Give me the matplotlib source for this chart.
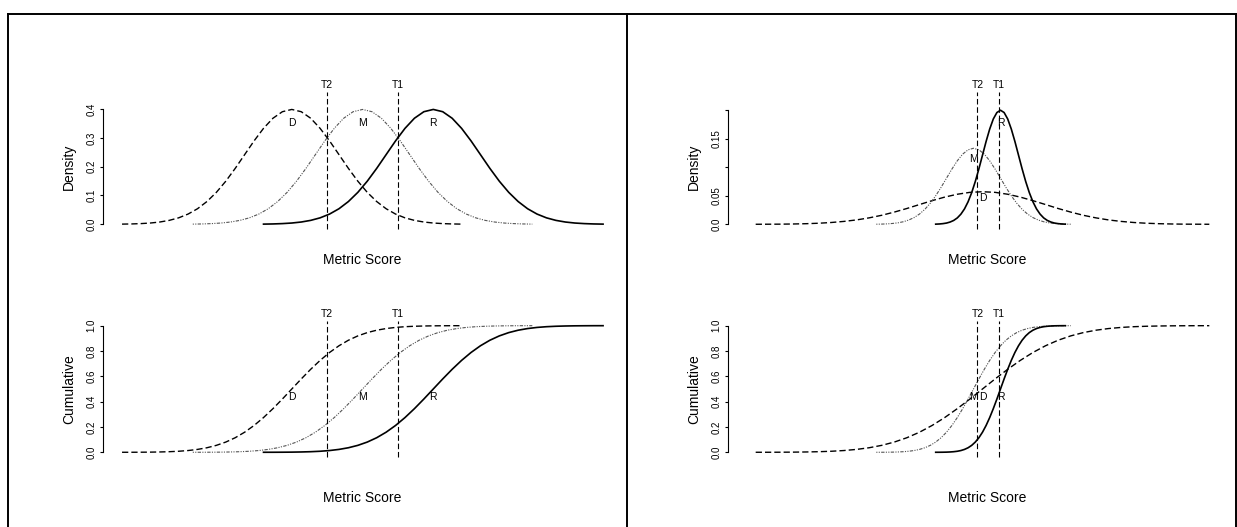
import numpy as np
import matplotlib.pyplot as plt
from matplotlib.lines import Line2D

plt.rcParams['font.family'] = ['Liberation Sans', 'DejaVu Sans']

# ---- left panel: three equal-spread scores ----
left_d_x = [-5.1, -4.9, -4.7, -4.5, -4.3, -4.1, -3.9, -3.7, -3.5, -3.3, -3.1, -2.9, -2.7,
            -2.5, -2.3, -2.1, -1.9, -1.7, -1.5, -1.3, -1.1, -0.9, -0.7, -0.5, -0.3, -0.1,
            0.1, 0.3, 0.5, 0.7, 0.9, 1.1, 1.3, 1.5, 1.7, 1.9, 2.1]
left_m_x = [-3.6, -3.4, -3.2, -3.0, -2.8, -2.6, -2.4, -2.2, -2.0, -1.8, -1.6, -1.4, -1.2,
            -1.0, -0.8, -0.6, -0.4, -0.2, 0.0, 0.2, 0.4, 0.6, 0.8, 1.0, 1.2, 1.4, 1.6,
            1.8, 2.0, 2.2, 2.4, 2.6, 2.8, 3.0, 3.2, 3.4, 3.6]
left_r_x = [-2.1, -1.9, -1.7, -1.5, -1.3, -1.1, -0.9, -0.7, -0.5, -0.3, -0.1, 0.1, 0.3,
            0.5, 0.7, 0.9, 1.1, 1.3, 1.5, 1.7, 1.9, 2.1, 2.3, 2.5, 2.7, 2.9, 3.1, 3.3,
            3.5, 3.7, 3.9, 4.1, 4.3, 4.5, 4.7, 4.9, 5.1]
left_d_dens = [0.0006, 0.0012, 0.0024, 0.0044, 0.0079, 0.0136, 0.0224, 0.0355, 0.0540, 0.0790,
               0.1109, 0.1497, 0.1942, 0.2420, 0.2897, 0.3332, 0.3683, 0.3910, 0.3989, 0.3910,
               0.3683, 0.3332, 0.2897, 0.2420, 0.1942, 0.1497, 0.1109, 0.0790, 0.0540, 0.0355,
               0.0224, 0.0136, 0.0079, 0.0044, 0.0024, 0.0012, 0.0006]
left_m_dens = list(left_d_dens)
left_r_dens = list(left_d_dens)
left_d_cum = [0.0002, 0.0003, 0.0007, 0.0013, 0.0026, 0.0047, 0.0082, 0.0139, 0.0228, 0.0359,
              0.0548, 0.0808, 0.1151, 0.1587, 0.2119, 0.2743, 0.3446, 0.4207, 0.5000, 0.5793,
              0.6554, 0.7257, 0.7881, 0.8413, 0.8849, 0.9192, 0.9452, 0.9641, 0.9772, 0.9861,
              0.9918, 0.9953, 0.9974, 0.9987, 0.9993, 0.9997, 0.9998]
left_m_cum = list(left_d_cum)
left_r_cum = list(left_d_cum)
left_means = [-1.5, 0.0, 1.5]          # D, M, R
left_thresholds = [-0.75, 0.75]        # T2, T1

# ---- right panel: different spreads ----
right_d_x = [-24.2, -22.8, -21.4, -20.0, -18.6, -17.2, -15.8, -14.4, -13.0, -11.6, -10.2, -8.8,
             -7.4, -6.0, -4.6, -3.2, -1.8, -0.4, 1.0, 2.4, 3.8, 5.2, 6.6, 8.0, 9.4, 10.8, 12.2,
             13.6, 15.0, 16.4, 17.8, 19.2, 20.6, 22.0, 23.4, 24.8, 26.2]
right_m_x = [-10.8, -10.2, -9.6, -9.0, -8.4, -7.8, -7.2, -6.6, -6.0, -5.4, -4.8, -4.2, -3.6,
             -3.0, -2.4, -1.8, -1.2, -0.6, 0.0, 0.6, 1.2, 1.8, 2.4, 3.0, 3.6, 4.2, 4.8, 5.4,
             6.0, 6.6, 7.2, 7.8, 8.4, 9.0, 9.6, 10.2, 10.8]
right_r_x = [-4.2, -3.8, -3.4, -3.0, -2.6, -2.2, -1.8, -1.4, -1.0, -0.6, -0.2, 0.2, 0.6, 1.0,
             1.4, 1.8, 2.2, 2.6, 3.0, 3.4, 3.8, 4.2, 4.6, 5.0, 5.4, 5.8, 6.2, 6.6, 7.0, 7.4,
             7.8, 8.2, 8.6, 9.0, 9.4, 9.8, 10.2]
right_d_dens = [0.0001, 0.0002, 0.0003, 0.0006, 0.0011, 0.0019, 0.0032, 0.0051, 0.0077, 0.0113,
                0.0158, 0.0214, 0.0277, 0.0346, 0.0414, 0.0476, 0.0526, 0.0559, 0.0570, 0.0559,
                0.0526, 0.0476, 0.0414, 0.0346, 0.0277, 0.0214, 0.0158, 0.0113, 0.0077, 0.0051,
                0.0032, 0.0019, 0.0011, 0.0006, 0.0003, 0.0002, 0.0001]
right_m_dens = [0.0002, 0.0004, 0.0008, 0.0015, 0.0026, 0.0045, 0.0075, 0.0118, 0.0180, 0.0263,
                0.0370, 0.0499, 0.0647, 0.0807, 0.0966, 0.1111, 0.1228, 0.1303, 0.1330, 0.1303,
                0.1228, 0.1111, 0.0966, 0.0807, 0.0647, 0.0499, 0.0370, 0.0263, 0.0180, 0.0118,
                0.0075, 0.0045, 0.0026, 0.0015, 0.0008, 0.0004, 0.0002]
right_r_dens = [0.0003, 0.0006, 0.0012, 0.0022, 0.0040, 0.0068, 0.0112, 0.0178, 0.0270, 0.0395,
                0.0555, 0.0749, 0.0971, 0.1210, 0.1449, 0.1666, 0.1842, 0.1955, 0.1995, 0.1955,
                0.1842, 0.1666, 0.1449, 0.1210, 0.0971, 0.0749, 0.0555, 0.0395, 0.0270, 0.0178,
                0.0112, 0.0068, 0.0040, 0.0022, 0.0012, 0.0006, 0.0003]
right_d_cum = list(left_d_cum)
right_m_cum = list(left_d_cum)
right_r_cum = list(left_d_cum)
right_means = [1.0, 0.0, 3.0]          # D, M, R
right_thresholds = [0.44, 2.78]        # T2, T1

names = ['D', 'M', 'R']
thr_names = ['T2', 'T1']

styles = {
    'D': dict(color='black', lw=1.0, dashes=(4.5, 2.2)),
    'M': dict(color='#555555', lw=0.8, dashes=(1.0, 1.2, 1.0, 1.2, 3.0, 1.2)),
    'R': dict(color='black', lw=1.2, ls='-'),
}

W, H = 1237, 527
fig = plt.figure(figsize=(W / 100, H / 100), dpi=100)


def px_axes(x0, y0, x1, y1):
    return fig.add_axes([x0 / W, 1 - y1 / H, (x1 - x0) / W, (y1 - y0) / H])


def style_axes(ax, ticks, ticklabels, ylabel, xlim, ylim, xlab_y):
    for s in ['top', 'right', 'bottom']:
        ax.spines[s].set_visible(False)
    ax.spines['left'].set_bounds(ticks[0], ticks[-1])
    ax.spines['left'].set_linewidth(0.8)
    ax.set_xticks([])
    ax.set_yticks(ticks)
    ax.set_yticklabels(ticklabels, rotation=90, va='center', fontsize=7)
    ax.tick_params(axis='y', length=2, width=0.8, pad=2.5)
    ax.set_xlim(xlim)
    ax.set_ylim(ylim)
    ax.set_ylabel(ylabel, fontsize=10, va='center')
    ax.yaxis.set_label_coords(-0.065, 0.5)
    ax.set_xlabel('Metric Score', fontsize=10)
    ax.xaxis.set_label_coords(0.5, xlab_y)
    ax.xaxis.label.set_va('center')
    ax.patch.set_visible(False)


def draw(ax, xs, ys, means, label_ys, thresholds, line_top, text_y):
    for name, x, y in zip(names, xs, ys):
        ax.plot(x, y, **styles[name])
    tr = ax.get_xaxis_transform()
    for t, tn in zip(thresholds, thr_names):
        ax.plot([t, t], [0, line_top], transform=tr, color='black', lw=0.8,
                dashes=(5, 2.5), clip_on=False)
        ax.text(t, text_y, tn, transform=tr, ha='center', va='center', fontsize=7.5)
    for name, m, ly in zip(names, means, label_ys):
        ax.text(m, ly, name, ha='center', va='center', fontsize=7.5)


dens_top, dens_bot = 104.8, 228.9
cum_top, cum_bot = 320.6, 457.4
lx0, lx1 = 102.8, 622.3
rx0, rx1 = 727.7, 1247.2

# left density
ax = px_axes(lx0, dens_top, lx1, dens_bot)
draw(ax, [left_d_x, left_m_x, left_r_x], [left_d_dens, left_m_dens, left_r_dens],
     left_means, [0.351, 0.351, 0.351], left_thresholds, 1.106, 1.16)
style_axes(ax, [0, 0.1, 0.2, 0.3, 0.4], ['0.0', '0.1', '0.2', '0.3', '0.4'], 'Density',
           (-5.508, 5.508), (-0.016, 0.415), -0.25)

# left cumulative
ax = px_axes(lx0, cum_top, lx1, cum_bot)
draw(ax, [left_d_x, left_m_x, left_r_x], [left_d_cum, left_m_cum, left_r_cum],
     left_means, [0.435, 0.435, 0.435], left_thresholds, 1.0, 1.048)
style_axes(ax, [0, 0.2, 0.4, 0.6, 0.8, 1.0], ['0.0', '0.2', '0.4', '0.6', '0.8', '1.0'],
           'Cumulative', (-5.508, 5.508), (-0.0403, 1.040), -0.297)

# right density
ax = px_axes(rx0, dens_top, rx1, dens_bot)
draw(ax, [right_d_x, right_m_x, right_r_x], [right_d_dens, right_m_dens, right_r_dens],
     right_means, [0.0466, 0.115, 0.178], right_thresholds, 1.106, 1.16)
style_axes(ax, [0, 0.05, 0.10, 0.15, 0.20], ['0.0', '0.05', '', '0.15', ''], 'Density',
           (-27.31, 30.41), (-0.008, 0.209), -0.25)

# right cumulative
ax = px_axes(rx0, cum_top, rx1, cum_bot)
draw(ax, [right_d_x, right_m_x, right_r_x], [right_d_cum, right_m_cum, right_r_cum],
     right_means, [0.435, 0.435, 0.435], right_thresholds, 1.0, 1.048)
style_axes(ax, [0, 0.2, 0.4, 0.6, 0.8, 1.0], ['0.0', '0.2', '0.4', '0.6', '0.8', '1.0'],
           'Cumulative', (-27.31, 30.41), (-0.0403, 1.040), -0.297)

# panel frames
for xs, ys in [([8.3, 1237], [14, 14]), ([8.3, 8.3], [14, 527]),
               ([627.3, 627.3], [14, 527]), ([1236, 1236], [14, 527])]:
    fig.add_artist(Line2D([x / W for x in xs], [1 - y / H for y in ys],
                          transform=fig.transFigure, color='black', lw=1.4))

fig.savefig('out.png', dpi=100)
